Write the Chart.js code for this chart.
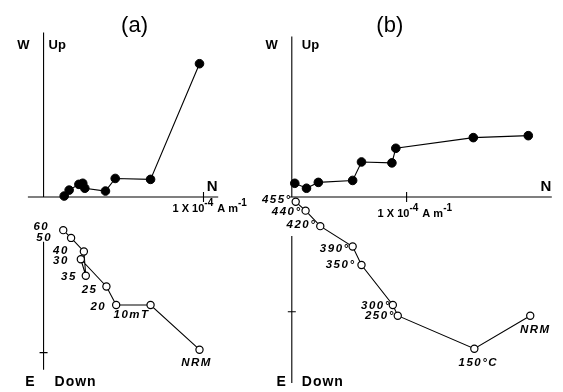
<!DOCTYPE html>
<html>
<head>
<meta charset="utf-8">
<script src="https://cdn.jsdelivr.net/npm/chart.js@4/dist/chart.umd.min.js"></script>
<style>
  html, body { margin: 0; padding: 0; background: #fff; }
  #wrap { position: relative; width: 563px; height: 392px; overflow: hidden; }
  #wrap canvas { position: absolute; top: 0; left: 0; }
</style>
</head>
<body>
<div id="wrap">
  <canvas id="panelA" width="563" height="392"></canvas>
  <canvas id="panelB" width="563" height="392"></canvas>
</div>
<script>
// Orthogonal vector projections of demagnetisation data (units of 1e-5 A/m).
// Filled circles: horizontal plane (N vs W/E). Open circles: vertical plane (N vs Up/Down).

// (a) alternating-field steps
const stepsA = ['NRM', '10mT', '20', '25', '30', '35', '40', '50', '60'];
const horizNA = [9.75, 6.69, 4.48, 3.87, 2.58, 2.45, 2.21, 1.60, 1.29];
const horizWA = [8.56, 1.13, 1.19, 0.38, 0.56, 0.88, 0.81, 0.44, 0.06];
const vertNA  = [9.75, 6.69, 4.54, 3.93, 2.33, 2.64, 2.52, 1.72, 1.23];
const vertUpA = [-9.81, -6.94, -6.94, -5.75, -4.00, -5.06, -3.50, -2.63, -2.13];

// (b) thermal steps
const stepsB = ['NRM', '150°C', '250°', '300°', '350°', '390°', '420°', '440°', '455°'];
const horizNB = [20.6, 15.81, 9.06, 8.72, 6.07, 5.30, 2.31, 1.28, 0.26];
const horizWB = [5.34, 5.17, 4.24, 2.97, 3.05, 1.44, 1.27, 0.76, 1.19];
const vertNB  = [20.77, 15.9, 9.23, 8.80, 6.07, 5.30, 2.48, 1.20, 0.34];
const vertUpB = [-10.34, -13.22, -10.34, -9.41, -5.93, -4.32, -2.54, -1.19, -0.42];

// Scale tick on each axis (1 x 10^-4 A/m)
const unitTick = 10;

// Step-label placement (pixel offsets from each open circle, text alignment)
const labelPosA = [
  [-3, 13, 'center'], [-1, 10, 'right'], [-10, 2, 'right'], [-9, 3, 'right'],
  [-12, 2, 'right'], [-9, 1, 'right'], [-15, -1, 'right'], [-19, 0, 'right'], [-14, -3, 'right']
];
const labelPosB = [
  [5, 14, 'center'], [4, 14, 'center'], [-3, 0, 'right'], [-2, 1, 'right'],
  [-6, 0, 'right'], [-3, 2, 'right'], [-4, -1, 'right'], [-4, 1, 'right'], [-4, -2, 'right']
];

function pts(xs, ys) { return xs.map((x, i) => ({ x: x, y: ys[i] })); }

const LABEL_FONT = 'italic bold 11.5px "Liberation Sans", Arial, sans-serif';
const AXIS_FONT = 'bold 13px "Liberation Sans", Arial, sans-serif';

function drawUnit(ctx, x, y, size) {
  const parts = [['1 X 10', 0], ['-4', 1], [' A m', 0], ['-1', 1]];
  ctx.textAlign = 'left';
  ctx.textBaseline = 'middle';
  let cx = x;
  parts.forEach(([t, sup]) => {
    ctx.font = 'bold ' + (sup ? size - 1 : size) + 'px "Liberation Sans", Arial, sans-serif';
    ctx.fillText(t, cx, sup ? y - 6 : y);
    cx += ctx.measureText(t).width + (sup ? 1 : 0);
  });
}

const projectionAxes = {
  id: 'projectionAxes',
  beforeDatasetsDraw(chart, args, o) {
    const ctx = chart.ctx, xs = chart.scales.x, ys = chart.scales.y;
    const X = v => xs.getPixelForValue(v), Y = v => ys.getPixelForValue(v);
    const x0 = X(0), y0 = Y(0);
    ctx.save();
    ctx.strokeStyle = '#000';
    ctx.lineWidth = 1.1;
    ctx.beginPath();
    // N axis
    ctx.moveTo(X(o.hFrom), y0); ctx.lineTo(X(o.hTo), y0);
    // Up / W axis above, Down / E axis below (with a gap for labels)
    ctx.moveTo(x0, Y(o.vTop)); ctx.lineTo(x0, y0);
    ctx.moveTo(x0, Y(o.vLowFrom)); ctx.lineTo(x0, Y(o.vBottom));
    // scale ticks
    ctx.moveTo(X(unitTick), y0 - 5); ctx.lineTo(X(unitTick), y0 + 5);
    ctx.moveTo(x0 - 4, Y(-unitTick)); ctx.lineTo(x0 + 4, Y(-unitTick));
    ctx.stroke();
    ctx.restore();
  },
  afterDatasetsDraw(chart, args, o) {
    const ctx = chart.ctx, xs = chart.scales.x, ys = chart.scales.y;
    const X = v => xs.getPixelForValue(v), Y = v => ys.getPixelForValue(v);
    const x0 = X(0), y0 = Y(0);
    ctx.save();
    ctx.fillStyle = '#000';
    // panel title
    ctx.font = '22px "Liberation Sans", Arial, sans-serif';
    ctx.textAlign = 'center'; ctx.textBaseline = 'middle';
    ctx.fillText(o.title, x0 + o.titleDx, 26);
    // axis names
    ctx.font = AXIS_FONT;
    ctx.textAlign = 'right';
    ctx.fillText('W', x0 - 14, 45);
    ctx.textAlign = 'left';
    ctx.fillText('Up', x0 + o.upDx, 45);
    ctx.font = 'bold 15px "Liberation Sans", Arial, sans-serif';
    ctx.textAlign = 'center';
    ctx.fillText('N', X(o.hTo) - 6, y0 - 10);
    ctx.font = 'bold 14px "Liberation Sans", Arial, sans-serif';
    ctx.textAlign = 'right';
    ctx.fillText('E', x0 + o.eDx, 382);
    ctx.textAlign = 'left';
    if ('letterSpacing' in ctx) ctx.letterSpacing = '1px';
    ctx.fillText('Down', x0 + o.downDx, 382);
    if ('letterSpacing' in ctx) ctx.letterSpacing = '0px';
    // unit label under the scale tick
    drawUnit(ctx, X(unitTick) + o.unitDx, y0 + o.unitDy, 11);
    // step labels beside the vertical-plane points
    const meta = chart.getDatasetMeta(1);
    ctx.font = LABEL_FONT;
    if ('letterSpacing' in ctx) ctx.letterSpacing = '1.5px';
    ctx.textBaseline = 'middle';
    o.steps.forEach((s, i) => {
      const el = meta.data[i];
      const [dx, dy, al] = o.labelPos[i];
      ctx.textAlign = al;
      ctx.fillText(s, el.x + dx, el.y + dy);
    });
    ctx.restore();
  }
};

function makePanel(id, cfg) {
  new Chart(document.getElementById(id), {
    type: 'scatter',
    data: {
      datasets: [
        {
          data: pts(cfg.hN, cfg.hW),
          showLine: true, borderColor: '#000', borderWidth: 1.1,
          pointRadius: 4.3, pointBackgroundColor: '#000', pointBorderColor: '#000',
          pointBorderWidth: 1, clip: false
        },
        {
          data: pts(cfg.vN, cfg.vU),
          showLine: true, borderColor: '#000', borderWidth: 1.1,
          pointRadius: 3.6, pointBackgroundColor: '#fff', pointBorderColor: '#000',
          pointBorderWidth: 1.2, clip: false
        }
      ]
    },
    options: {
      responsive: false,
      animation: false,
      devicePixelRatio: 1,
      layout: { padding: 0 },
      plugins: {
        legend: { display: false },
        tooltip: { enabled: false },
        projectionAxes: cfg.axes
      },
      scales: {
        x: { type: 'linear', display: false, min: cfg.xMin, max: cfg.xMax },
        y: { type: 'linear', display: false, min: cfg.yMin, max: cfg.yMax }
      }
    },
    plugins: [projectionAxes]
  });
}

// panel (a): origin at (39,197), 16.3 px / unit across, 16 px / unit down
makePanel('panelA', {
  hN: horizNA, hW: horizWA, vN: vertNA, vU: vertUpA,
  xMin: -39 / 16.3, xMax: (563 - 39) / 16.3,
  yMin: -(392 - 197) / 16.0, yMax: 197 / 16.0,
  axes: {
    title: '(a)', titleDx: 91, upDx: 5, eDx: -9, downDx: 11,
    hFrom: -0.98, hTo: 10.92, vTop: 10.56, vLowFrom: -2.87, vBottom: -11.1,
    unitDx: -31, unitDy: 12,
    steps: stepsA, labelPos: labelPosA
  }
});

// panel (b): origin at (292,197), 11.7 px / unit across, 11.8 px / unit down
makePanel('panelB', {
  hN: horizNB, hW: horizWB, vN: vertNB, vU: vertUpB,
  xMin: -292 / 11.7, xMax: (563 - 292) / 11.7,
  yMin: -(392 - 197) / 11.8, yMax: 197 / 11.8,
  axes: {
    title: '(b)', titleDx: 98, upDx: 10, eDx: -6, downDx: 10,
    hFrom: -0.15, hTo: 22.65, vTop: 13.98, vLowFrom: -3.39, vBottom: -16.2,
    unitDx: -29, unitDy: 17,
    steps: stepsB, labelPos: labelPosB
  }
});
</script>
</body>
</html>
